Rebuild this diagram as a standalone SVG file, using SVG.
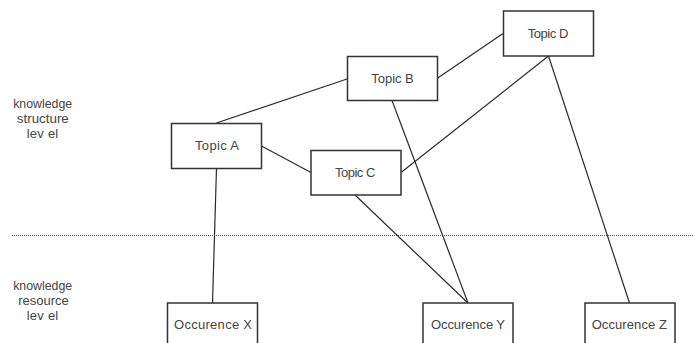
<svg xmlns="http://www.w3.org/2000/svg" width="693" height="343" viewBox="0 0 693 343">
<style>
.box{fill:#fff;stroke:#333;stroke-width:1.5}
.lbl{font-family:"Liberation Sans",Arial,sans-serif;font-size:13px;fill:#444;text-anchor:middle}
.edge{stroke:#2a2a2a;stroke-width:1.2;fill:none}
.sep{stroke:#555;stroke-width:1;stroke-dasharray:1 1;fill:none}
</style>
<rect width="693" height="343" fill="#fff"/>
<line class="sep" x1="12" y1="235.5" x2="693" y2="235.5"/>
<g id="level-labels">
<text class="lbl" x="42.7" y="108" textLength="59" lengthAdjust="spacingAndGlyphs">knowledge</text>
<text class="lbl" x="42.8" y="123" textLength="52" lengthAdjust="spacingAndGlyphs">structure</text>
<text class="lbl" x="42.5" y="138" textLength="31.5">lev el</text>
<text class="lbl" x="42.7" y="289.5" textLength="59" lengthAdjust="spacingAndGlyphs">knowledge</text>
<text class="lbl" x="43.5" y="305" textLength="50.5" lengthAdjust="spacingAndGlyphs">resource</text>
<text class="lbl" x="42.5" y="319.5" textLength="31.5">lev el</text>
</g>
<g id="connectors">
<line class="edge" x1="216.5" y1="123" x2="347" y2="79"/>
<line class="edge" x1="261.5" y1="146" x2="311" y2="172.5"/>
<line class="edge" x1="216.5" y1="168" x2="212.5" y2="303"/>
<line class="edge" x1="437" y1="78.5" x2="503" y2="33.5"/>
<line class="edge" x1="392" y1="100.5" x2="468" y2="303"/>
<line class="edge" x1="548.5" y1="56" x2="401" y2="172.5"/>
<line class="edge" x1="548.5" y1="56" x2="629.5" y2="303"/>
<line class="edge" x1="355" y1="195" x2="468" y2="303"/>
</g>
<g id="topicA"><rect class="box" x="171.5" y="123.5" width="90" height="45"/><text class="lbl" x="217" y="150" textLength="44">Topic A</text></g>
<g id="topicB"><rect class="box" x="347.5" y="56.5" width="90" height="44"/><text class="lbl" x="392.5" y="83.3" textLength="42.3">Topic B</text></g>
<g id="topicC"><rect class="box" x="311" y="150.5" width="90" height="44.5"/><text class="lbl" x="355.2" y="177.3" textLength="40.3">Topic C</text></g>
<g id="topicD"><rect class="box" x="503.5" y="11" width="90" height="45"/><text class="lbl" x="548" y="38" textLength="40.7">Topic D</text></g>
<g id="occX"><rect class="box" x="167.5" y="303" width="90" height="45"/><text class="lbl" x="213" y="329" textLength="78">Occurence X</text></g>
<g id="occY"><rect class="box" x="423" y="303" width="90" height="45"/><text class="lbl" x="468" y="329" textLength="74">Occurence Y</text></g>
<g id="occZ"><rect class="box" x="585" y="303" width="90" height="45"/><text class="lbl" x="629.3" y="329" textLength="75.3">Occurence Z</text></g>
</svg>
